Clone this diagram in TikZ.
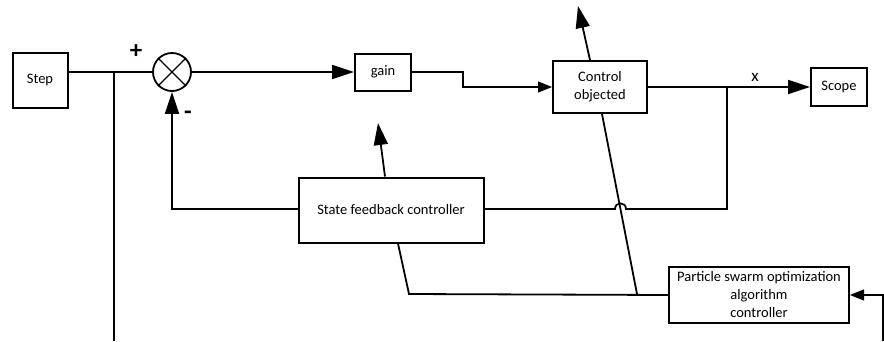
\documentclass[tikz,border=0pt]{standalone}
\usepackage{fontspec}
\setmainfont{Carlito}
\usetikzlibrary{arrows.meta,positioning}

\begin{document}
\begin{tikzpicture}[x=1pt,y=-1pt]

  \tikzset{main node/.style={rectangle, draw, line width=2pt, text centered,
  		align=center, inner sep=0pt, font=\fontsize{14.5}{18}\selectfont}, }
  \tikzset{linea/.style={line width=1.8pt, -{Triangle[length=22pt,width=14pt]}}, }
  \tikzset{lineb/.style={line width=1.1pt, -{Triangle[length=14pt,width=11pt]}}, }
  \tikzset{wire/.style={line width=1.8pt}, }
  \tikzset{sign/.style={font=\bfseries\fontsize{25}{25}\selectfont}, }

  \useasboundingbox (0,0) rectangle (884,341);

   \node[main node, minimum width=55pt, minimum height=55pt] (1) at (40,80) {Step};
   \node[circle, draw, line width=1.8pt, minimum size=38pt, inner sep=0pt] (2) at (172,72) {};
   \node[main node, minimum width=56pt, minimum height=37pt] (3) at (383,72) {gain};
   \node[main node, minimum width=94pt, minimum height=52pt] (4) at (600,87) {Control\\objected};
   \node[main node, minimum width=56pt, minimum height=38pt] (5) at (839,87) {Scope};
   \node[main node, minimum width=185pt, minimum height=65pt] (6) at (391,210) {State feedback controller};
   \node[main node, minimum width=180pt, minimum height=56pt] (7) at (759,295) {Particle swarm optimization\\algorithm\\controller};
%
   \coordinate (b1) at (114,72);
   \coordinate (b2) at (114,341);
   \coordinate (b3) at (727,87);
   \coordinate (j1) at (637,294);
   \coordinate (t1) at (578,6);
   \coordinate (t2) at (378,123);
   \coordinate (r1) at (883,341);
%
   \draw[line width=1.1pt] (2.north west) -- (2.south east) (2.north east) -- (2.south west);
   \node[sign] at (136,52) {+};
   \node[sign] at (188,115) {-};
   \node[font=\fontsize{17}{18}\selectfont] at (755,77) {x};
%
   \draw[wire] (1.east |- b1) -- (2.west);
   \draw[wire] (b1) -- (b2);
   \draw[linea] (2.east) -- (3.west);
   \draw[lineb] (3.east) -- (463,72) -- (463,87) -- (4.west);
   \draw[linea] (4.east) -- (5.west);
   \draw[wire] (b3) -- (727,209) -- (626,209) .. controls (626,201.5) and (615,201.5) .. (615,209) -- (6.east |- 0,209);
   \draw[linea] (6.west |- 0,209) -- (2.south |- 0,209) -- (2.south);
   \draw[linea] ([xshift=-10pt]4.north) -- (t1);
   \draw[wire] ([xshift=2pt]4.south) -- (j1);
   \draw[linea] ([xshift=-6pt]6.north) -- (t2);
   \draw[wire] ([xshift=7pt]6.south) -- (409,294) -- (7.west);
   \draw[lineb] (r1) -- (r1 |- 7.east) -- (7.east);
%
\end{tikzpicture}
\end{document}
